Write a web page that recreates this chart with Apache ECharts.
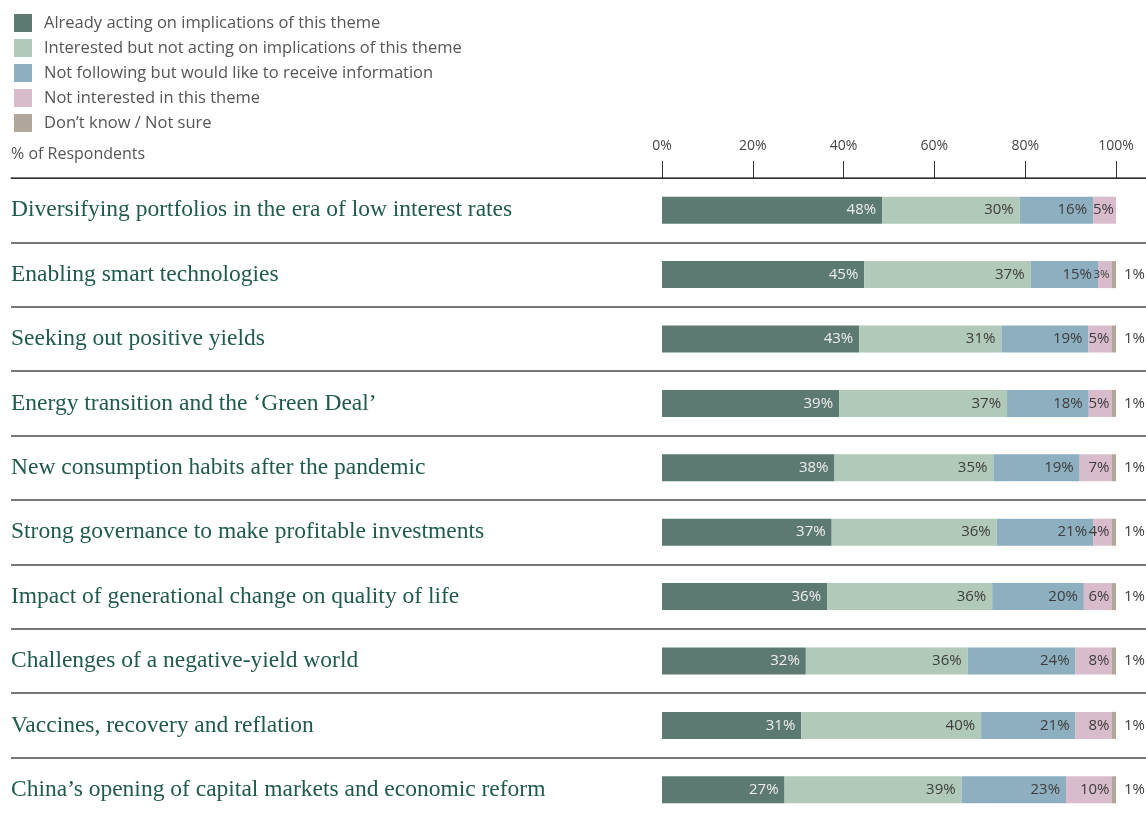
<!DOCTYPE html>
<html>
<head>
<meta charset="utf-8">
<script src="https://cdn.jsdelivr.net/npm/echarts@6/dist/echarts.min.js"></script>
<style>
html,body{margin:0;padding:0;background:#fff;overflow:hidden;}
#chart{width:1146px;height:830px;}
</style>
</head>
<body>
<div id="chart"></div>
<script>
const categories = [
  "Diversifying portfolios in the era of low interest rates",
  "Enabling smart technologies",
  "Seeking out positive yields",
  "Energy transition and the \u2018Green Deal\u2019",
  "New consumption habits after the pandemic",
  "Strong governance to make profitable investments",
  "Impact of generational change on quality of life",
  "Challenges of a negative-yield world",
  "Vaccines, recovery and reflation",
  "China\u2019s opening of capital markets and economic reform"
];
const seriesNames = [
  "Already acting on implications of this theme",
  "Interested but not acting on implications of this theme",
  "Not following but would like to receive information",
  "Not interested in this theme",
  "Don\u2019t know / Not sure"
];
const alreadyActing = [48, 45, 43, 39, 38, 37, 36, 32, 31, 27];
const interested    = [30, 37, 31, 37, 35, 36, 36, 36, 40, 39];
const notFollowing  = [16, 15, 19, 18, 19, 21, 20, 24, 21, 23];
const notInterested = [5, 3, 5, 5, 7, 4, 6, 8, 8, 10];
const dontKnow      = [0, 1, 1, 1, 1, 1, 1, 1, 1, 1];
const xTicks = [0, 20, 40, 60, 80, 100];

const colors = ["#5d7a72", "#b1c9b8", "#8eafc0", "#d9bccb", "#b1a69c"];
const allSeries = [alreadyActing, interested, notFollowing, notInterested, dontKnow];
const rowSums = categories.map((c, i) => allSeries.reduce((s, arr) => s + arr[i], 0));

const FONT = "'Open Sans', sans-serif";

const series = allSeries.map((arr, si) => ({
  name: seriesNames[si],
  type: 'bar',
  stack: 'total',
  xAxisIndex: 1,
  yAxisIndex: 1,
  barWidth: 27,
  itemStyle: { color: colors[si] },
  emphasis: { disabled: true },
  data: arr.map((v, i) => {
    const item = { value: v / rowSums[i] * 100, raw: v };
    if (si === 3 && v <= 3) item.label = { fontSize: 11.5 };
    return item;
  }),
  label: {
    show: true,
    position: si === 4 ? 'right' : 'insideRight',
    distance: si === 4 ? 8 : (si === 3 ? 2 : 6),
    color: si === 0 ? '#eeeeee' : '#3d3d3d',
    fontFamily: FONT,
    fontSize: 15,
    formatter: p => p.data.raw > 0 ? p.data.raw + '%' : ''
  }
}));

const chart = echarts.init(document.getElementById('chart'), null, { renderer: 'canvas' });
chart.setOption({
  animation: false,
  color: colors,
  legend: {
    orient: 'vertical',
    left: 14,
    top: 14,
    padding: 0,
    itemWidth: 18,
    itemHeight: 18,
    itemGap: 7,
    icon: 'rect',
    selectedMode: false,
    textStyle: { color: '#555', fontSize: 16.5, fontFamily: FONT, padding: [0, 0, 0, 7] },
    data: seriesNames
  },
  graphic: [{
    type: 'text',
    left: 11,
    top: 146,
    style: { text: '% of Respondents', fill: '#555', font: "16px 'Open Sans', sans-serif" }
  }],
  grid: [
    { left: 11, right: 0, top: 178, bottom: 8, containLabel: false },
    { left: 662, right: 30, top: 178, bottom: 8, containLabel: false }
  ],
  xAxis: [
    { gridIndex: 0, type: 'value', position: 'top', min: 0, max: 100,
      axisLine: { show: true, lineStyle: { color: '#333', width: 1.2 } },
      axisTick: { show: false }, axisLabel: { show: false }, splitLine: { show: false } },
    { gridIndex: 1, type: 'value', position: 'top', min: 0, max: 100, interval: 20,
      axisLine: { show: true, lineStyle: { color: '#333', width: 1.2 } },
      axisTick: { show: true, length: 17, lineStyle: { color: '#333' } },
      axisLabel: { formatter: '{value}%', color: '#444', fontSize: 14, fontFamily: FONT, margin: 25 },
      splitLine: { show: false } }
  ],
  yAxis: [
    { gridIndex: 0, type: 'category', inverse: true, data: categories,
      axisLine: { show: false }, axisTick: { show: false },
      axisLabel: { inside: true, margin: 0, color: '#1f5a4c', fontSize: 23.5,
        fontFamily: "'Liberation Serif', 'DejaVu Serif', serif" },
      splitLine: { show: true, lineStyle: { color: '#4a4a4a', width: 1.5 } } },
    { gridIndex: 1, type: 'category', inverse: true, data: categories, show: false }
  ],
  series: series
});
</script>
</body>
</html>
